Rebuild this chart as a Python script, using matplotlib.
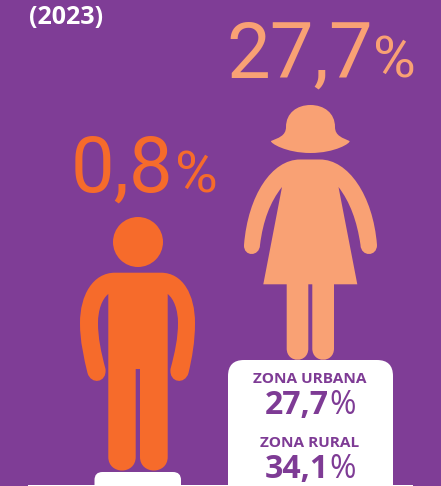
import matplotlib
matplotlib.use("Agg")
import matplotlib.pyplot as plt
from matplotlib.path import Path
from matplotlib.patches import Circle, FancyBboxPatch, PathPatch, Rectangle

BG = "#7f3d96"
ORANGE = "#f66b2b"
PEACH = "#f9a174"
PURPLE = "#7e3b95"

year_label = "(2023)"
male_value = "0,8"
female_value = "27,7"
zone_labels = ["ZONA URBANA", "ZONA RURAL"]
zone_values = ["27,7", "34,1"]

plt.rcParams["font.family"] = ["Open Sans", "DejaVu Sans"]

W, H = 441, 486
fig = plt.figure(figsize=(W / 100, H / 100), dpi=100, facecolor=BG)
ax = fig.add_axes([0, 0, 1, 1])
ax.set_xlim(0, W)
ax.set_ylim(H, 0)
ax.axis("off")

M, L, C = Path.MOVETO, Path.LINETO, Path.CURVE4


def shape(segs, color):
    # segs: first point, then 1 point (line) or 3 points (bezier)
    verts, codes = [segs[0]], [M]
    for s in segs[1:]:
        if len(s) == 3:
            verts += list(s)
            codes += [C, C, C]
        else:
            verts.append(s)
            codes.append(L)
    ax.add_patch(PathPatch(Path(verts, codes), fc=color, ec="none"))


def big(x, y, s, size, color):
    ax.text(x, y, s, fontsize=size, color=color, ha="left", va="baseline", family="Roboto")


# white boxes at the bottom
ax.add_patch(Rectangle((28, 484.5), 385, 3, fc="white", ec="none"))
ax.add_patch(FancyBboxPatch((94.5, 472), 86.5, 30, boxstyle="round,pad=0,rounding_size=8", fc="white", ec="none"))
ax.add_patch(FancyBboxPatch((228, 360), 165, 150, boxstyle="round,pad=0,rounding_size=16", fc="white", ec="none"))

# man
ax.add_patch(Circle((138, 242), 25, fc=ORANGE, ec="none"))
shape([(115, 272.7), (161, 272.7),
       ((183, 272.7), (195, 295), (195, 323)),
       ((195, 342), (192, 358), (188.5, 373)),
       ((185, 385), (169, 383), (170.5, 369)),
       ((175, 352), (178, 338), (178, 323)),
       ((178, 310), (174, 299), (167.7, 294)),
       (167.7, 457), ((167.7, 475), (140, 475), (140, 457)),
       (140, 369), (135.7, 369),
       (135.7, 457), ((135.7, 475), (108.3, 475), (108.3, 457)),
       (108.3, 294),
       ((102, 299), (98, 310), (98, 323)),
       ((98, 338), (101, 352), (105.5, 369)),
       ((107, 383), (91, 385), (87.5, 373)),
       ((84, 358), (80, 342), (80, 323)),
       ((80, 295), (93, 272.7), (115, 272.7))], ORANGE)

# woman
shape([(271, 141),
       ((278, 138), (286, 136), (286, 127)),
       ((286, 113), (297, 105), (310.5, 105)),
       ((324, 105), (335, 113), (335, 127)),
       ((335, 136), (343, 138), (349.5, 141)),
       ((351, 143), (335, 153), (310.5, 153)),
       ((286, 153), (270, 143), (271, 141))], PEACH)
shape([(300, 159.5), (320, 159.5),
       ((348, 159.5), (373, 195), (377, 245)),
       ((377, 257), (361, 257), (360.5, 245)),
       ((357, 221), (350, 202), (338.5, 187)),
       (357.3, 284.3), (334, 284.3),
       (334, 348.5), ((334, 363.5), (312.3, 363.5), (312.3, 348.5)),
       (312.3, 284.3), (308.3, 284.3),
       (308.3, 348.5), ((308.3, 363.5), (286.7, 363.5), (286.7, 348.5)),
       (286.7, 284.3), (263.3, 284.3), (282, 187),
       ((270, 202), (263, 221), (260, 245)),
       ((259.5, 257), (243.5, 257), (244, 245)),
       ((248, 195), (272, 159.5), (300, 159.5))], PEACH)

# big numbers
big(226, 78, female_value, 56, PEACH)
big(373, 78, "%", 42, PEACH)
big(71, 192, male_value, 56, ORANGE)
big(175, 192, "%", 42, ORANGE)

ax.text(29, 23.5, year_label, fontsize=18, color="white", weight="bold", ha="left", va="baseline")

# box labels
ax.text(310, 382.7, zone_labels[0], fontsize=11.1, color=PURPLE, weight="bold", ha="center", va="baseline")
ax.text(310, 446.7, zone_labels[1], fontsize=11.1, color=PURPLE, weight="bold", ha="center", va="baseline")
ax.text(265, 414, zone_values[0], fontsize=23, color=PURPLE, weight="bold", ha="left", va="baseline")
ax.text(329, 414, "%", fontsize=23, color=PURPLE, ha="left", va="baseline")
ax.text(265, 478, zone_values[1], fontsize=23, color=PURPLE, weight="bold", ha="left", va="baseline")
ax.text(329, 478, "%", fontsize=23, color=PURPLE, ha="left", va="baseline")

fig.savefig("out.png", dpi=100, facecolor=BG)
